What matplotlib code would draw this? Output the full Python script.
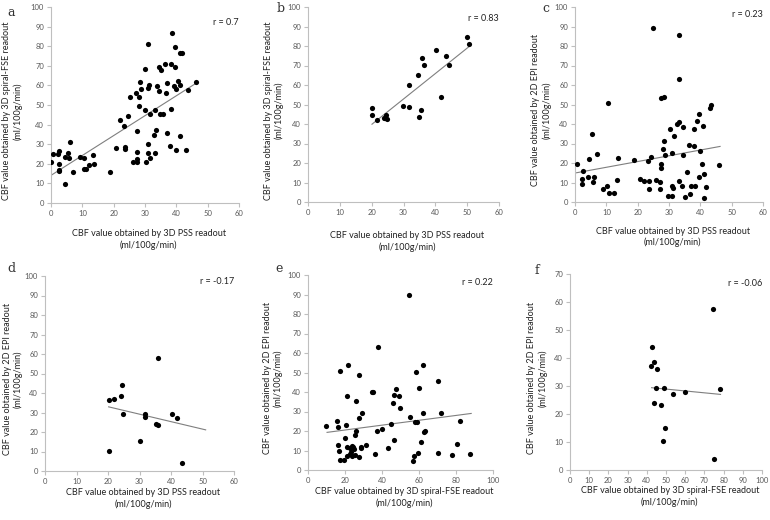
import matplotlib
matplotlib.use("Agg")
import matplotlib.pyplot as plt

plt.rcParams["font.family"] = ["Lato", "DejaVu Sans"]

# ---- data (CBF, ml/100g/min) ----
a_x = [0.0, 0.7, 2.3, 2.6, 2.6, 2.5, 2.6, 4.4, 4.4, 5.5, 5.9, 6.2, 6.9, 9.1, 10.4,
       10.5, 11.1, 12.2, 13.3, 13.7, 18.9, 20.9, 22.1, 23.2, 23.6, 23.6, 24.5, 25.1,
       26.1, 27.0, 27.4, 27.4, 27.4, 27.4, 28.1, 28.3, 28.2, 28.7, 29.9, 30.1, 30.4,
       31.1, 31.1, 31.2, 31.1, 31.1, 31.6, 31.7, 32.8, 33.3, 33.4, 33.3, 33.8, 34.4,
       34.5, 34.8, 35.2, 35.7, 36.4, 36.7, 36.9, 37.0, 38.1, 38.2, 38.2, 38.5, 39.1,
       39.7, 39.7, 40.0, 40.0, 40.6, 41.2, 41.2, 41.3, 41.8, 43.2, 43.6, 46.2]
a_y = [21.1, 25.2, 25.2, 26.7, 19.9, 16.5, 16.8, 9.9, 23.6, 25.7, 23.1, 31.3, 15.6,
       23.6, 23.0, 17.2, 17.2, 19.6, 24.3, 20.1, 16.0, 28.2, 42.3, 39.3, 28.4, 27.6,
       44.2, 54.1, 21.1, 56.3, 36.7, 25.9, 22.6, 21.1, 54.3, 61.6, 49.3, 58.0, 68.5,
       47.4, 20.9, 81.1, 58.8, 60.4, 30.3, 25.5, 23.0, 45.4, 34.5, 47.4, 37.4, 25.5,
       59.9, 69.4, 57.1, 45.6, 67.9, 45.6, 70.9, 56.3, 61.4, 35.5, 28.9, 70.9, 48.1,
       86.7, 59.5, 79.4, 69.6, 58.3, 27.0, 62.1, 34.2, 76.4, 60.2, 76.7, 27.2, 57.5,
       61.9]

b_x = [20.1, 20.2, 21.8, 23.8, 24.1, 24.6, 24.7, 29.9, 31.6, 31.7, 34.4, 34.8, 35.5,
       35.7, 36.5, 40.1, 41.8, 43.2, 44.2, 49.8, 50.5]
b_y = [48.0, 44.8, 41.9, 43.1, 43.3, 44.6, 42.6, 49.2, 48.7, 59.8, 64.9, 43.4, 47.4,
       73.9, 70.2, 77.7, 53.7, 74.8, 70.2, 84.5, 80.9]

c_x = [0.5, 2.4, 2.2, 2.2, 4.4, 4.3, 5.3, 5.6, 6.1, 6.9, 9.0, 10.3, 10.4, 11.0, 12.3,
       13.3, 13.6, 18.8, 20.6, 22.0, 23.2, 23.5, 23.5, 24.4, 25.0, 26.0, 27.3, 27.6,
       27.1, 27.1, 27.4, 28.3, 28.1, 28.4, 28.6, 29.7, 30.3, 31.0, 30.9, 31.1, 31.4,
       31.5, 32.7, 33.1, 33.1, 33.2, 33.2, 34.1, 34.4, 34.6, 35.1, 35.6, 36.3, 36.7,
       36.9, 38.0, 38.1, 38.4, 39.0, 39.6, 39.6, 39.9, 40.4, 41.0, 41.3, 41.2, 41.7,
       43.1, 43.5, 46.1]
c_y = [19.3, 15.9, 11.8, 9.4, 22.0, 12.8, 35.0, 10.4, 12.6, 24.8, 6.7, 8.4, 50.6, 4.8,
       4.8, 11.5, 22.6, 21.7, 11.6, 10.8, 20.9, 10.8, 6.5, 23.1, 89.2, 11.5, 19.7, 17.3,
       10.4, 6.7, 53.2, 53.7, 27.0, 31.1, 24.3, 3.1, 37.6, 25.1, 8.4, 2.9, 7.2, 34.0,
       39.8, 41.0, 85.5, 63.1, 10.8, 8.4, 24.1, 38.5, 2.6, 15.4, 29.2, 4.1, 8.0, 28.9,
       37.4, 8.0, 41.5, 45.3, 12.8, 26.3, 19.7, 39.1, 14.2, 2.2, 7.5, 48.2, 49.7, 19.0]

d_x = [20.2, 21.8, 24.1, 24.6, 24.9, 20.2, 30.0, 31.7, 31.7, 35.1, 35.8, 36.0, 40.4,
       42.0, 43.4]
d_y = [36.3, 37.1, 38.5, 44.0, 29.3, 10.4, 15.2, 29.3, 27.9, 24.0, 23.5, 57.8, 29.1,
       27.4, 4.1]

e_x = [9.9, 15.9, 16.3, 16.3, 16.8, 17.2, 17.2, 20.4, 19.9, 19.7, 21.2, 21.5, 21.2,
       21.2, 22.6, 22.8, 23.7, 23.5, 23.9, 24.4, 25.1, 25.5, 25.5, 26.0, 26.0, 27.5,
       27.3, 27.5, 28.6, 28.8, 29.1, 31.6, 34.5, 34.9, 36.2, 37.3, 37.8, 39.8, 43.2,
       44.8, 45.7, 46.3, 46.3, 47.7, 49.0, 49.9, 54.4, 55.0, 57.0, 57.1, 57.7, 58.2,
       58.8, 59.5, 60.0, 60.9, 62.0, 62.4, 62.9, 63.1, 70.0, 70.5, 71.8, 77.6, 80.3,
       82.1, 87.7]
e_y = [22.5, 25.1, 22.2, 12.6, 9.9, 4.9, 51.0, 22.9, 16.4, 5.1, 37.9, 53.6, 11.6, 7.3,
       8.2, 11.1, 12.3, 9.4, 7.3, 11.8, 10.8, 7.5, 17.7, 20.0, 35.5, 48.5, 26.6, 6.8,
       11.9, 11.3, 29.0, 13.0, 39.8, 40.1, 8.4, 20.1, 63.1, 21.0, 11.1, 23.5, 34.5,
       38.6, 15.5, 41.6, 37.7, 31.6, 89.6, 27.1, 4.6, 7.2, 24.4, 50.2, 24.6, 8.9, 41.8,
       14.3, 29.4, 53.9, 19.3, 20.0, 8.5, 45.7, 29.4, 7.8, 13.3, 25.3, 8.4]

f_x = [42.1, 42.8, 43.5, 45.3, 44.9, 43.7, 47.5, 48.9, 49.5, 48.4, 53.9, 60.0, 74.4,
       77.9, 75.1]
f_y = [37.1, 43.8, 38.6, 36.0, 29.3, 24.0, 23.3, 29.3, 15.0, 10.2, 27.1, 27.9, 57.5,
       29.0, 3.9]

# trend lines as drawn: (x start, x end), (y start, y end)
fit_x = {"a": (0.0, 46.2), "b": (20.1, 50.6), "c": (0.5, 46.3),
         "d": (20.2, 51.0), "e": (10.3, 88.2), "f": (42.5, 78.4)}
fit_y = {"a": (14.1, 61.0), "b": (39.9, 79.7), "c": (15.0, 28.5),
         "d": (32.9, 21.1), "e": (19.3, 29.0), "f": (29.4, 27.0)}

r_text = {"a": "r = 0.7", "b": "r = 0.83", "c": "r = 0.23",
          "d": "r = -0.17", "e": "r = 0.22", "f": "r = -0.06"}

PSS = "CBF value obtained by 3D PSS readout\n(ml/100g/min)"
FSE = "CBF value obtained by 3D spiral-FSE readout\n(ml/100g/min)"
EPI = "CBF value obtained by 2D EPI readout\n(ml/100g/min)"

# key, x, y, xlabel, ylabel, xmax, ymax, xstep, axes box px (l, r, t, b),
# panel letter px, ylabel x (axes frac), xlabel y (axes frac), r text y
panels = [
    ("a", a_x, a_y, PSS, FSE, 60, 100, 10, (51, 239, 7, 203), (7, 12), -0.205, -0.186, 0.92),
    ("b", b_x, b_y, PSS, FSE, 60, 100, 10, (308, 499, 7, 202), (277, 9), -0.178, -0.203, 0.94),
    ("c", c_x, c_y, PSS, EPI, 60, 100, 10, (575, 763, 7, 202), (542, 8), -0.18, -0.18, 0.96),
    ("d", d_x, d_y, PSS, EPI, 60, 100, 10, (45, 234, 276, 471), (7, 268), -0.17, -0.14, 0.97),
    ("e", e_x, e_y, FSE, EPI, 100, 100, 20, (308, 493, 275, 470), (275, 268), -0.19, -0.14, 0.96),
    ("f", f_x, f_y, FSE, EPI, 100, 70, 10, (570, 762, 274, 470), (535, 270), -0.17, -0.135, 0.95),
]

W, H = 770, 520
fig = plt.figure(figsize=(W / 100, H / 100), dpi=100)

spine_col = "#bfbfbf"
tick_col = "#595959"
text_col = "#222222"

for (key, xs, ys, xl, yl, xmax, ymax, xstep, (l, r, t, b), (lx, ly),
     ylx, xly, ry) in panels:
    ax = fig.add_axes([l / W, 1 - b / H, (r - l) / W, (b - t) / H])
    ax.scatter(xs, ys, s=14, color="black", linewidths=0, zorder=3)
    ax.plot(fit_x[key], fit_y[key], color="#7f7f7f", lw=0.8, zorder=2)
    ax.set_xlim(0, xmax)
    ax.set_ylim(0, ymax)
    ax.set_xticks(range(0, xmax + 1, xstep))
    ax.set_yticks(range(0, ymax + 1, 10))
    for s in ("top", "right"):
        ax.spines[s].set_visible(False)
    for s in ("left", "bottom"):
        ax.spines[s].set_color(spine_col)
        ax.spines[s].set_linewidth(0.8)
    ax.tick_params(direction="out", length=3, width=0.8, color=spine_col,
                   labelsize=5.5, labelcolor=tick_col, pad=2)
    ax.set_xlabel(xl, fontsize=6.5, color=text_col, linespacing=1.25)
    ax.set_ylabel(yl, fontsize=6.5, color=text_col, linespacing=1.2)
    ax.xaxis.label.set_verticalalignment("center")
    ax.yaxis.label.set_verticalalignment("center")
    ax.xaxis.set_label_coords(0.52, xly)
    ax.yaxis.set_label_coords(ylx, 0.47)
    ax.text(1.0, ry, r_text[key], transform=ax.transAxes, ha="right", va="center",
            fontsize=6.5, color=text_col)
    fig.text(lx / W, 1 - ly / H, key, fontsize=9, family="DejaVu Serif",
             color="#333333", ha="left", va="center")

fig.savefig("out.png", dpi=100)
